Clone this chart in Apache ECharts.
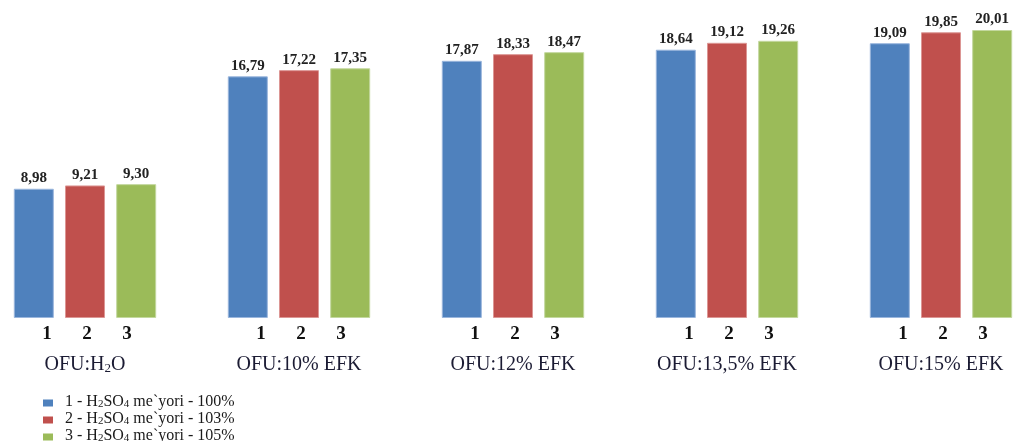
<!DOCTYPE html>
<html>
<head>
<meta charset="utf-8">
<script src="https://cdn.jsdelivr.net/npm/echarts@6/dist/echarts.min.js"></script>
<style>html,body{margin:0;padding:0;background:#fff}#c{width:1014px;height:441px}</style>
</head>
<body>
<div id="c"></div>
<script>
// Data
const categories = ['OFU:H2O', 'OFU:10% EFK', 'OFU:12% EFK', 'OFU:13,5% EFK', 'OFU:15% EFK'];
const seriesNames = ['1 - H2SO4 me`yori - 100%', '2 - H2SO4 me`yori - 103%', '3 - H2SO4 me`yori - 105%'];
const barNumbers = ['1', '2', '3'];
const s1 = [8.98, 16.79, 17.87, 18.64, 19.09];
const s2 = [9.21, 17.22, 18.33, 19.12, 19.85];
const s3 = [9.30, 17.35, 18.47, 19.26, 20.01];

const colors = ['#4F81BD', '#C0504D', '#9BBB59'];
const borders = ['#9ab6dd', '#dc9694', '#c3d89e'];
const serif = "'Liberation Serif', 'Times New Roman', serif";

function subRich(str, main, sub) {
  return str.replace(/([A-Z])(\d)/g, (m, a, d) => a + '\u0001' + d + '\u0002')
    .split(/(\u0001\d\u0002)/).filter(x => x.length)
    .map(p => p[0] === '\u0001' ? '{' + sub + '|' + p[1] + '}' : '{' + main + '|' + p + '}').join('');
}

const chart = echarts.init(document.getElementById('c'));
const values = [s1, s2, s3];
chart.setOption({
  animation: false,
  color: colors,
  grid: { left: -22, width: 1070, top: 30, bottom: 123, containLabel: false, outerBoundsMode: 'none' },
  legend: {
    orient: 'vertical', left: 43, top: 394, height: 80, padding: 0,
    itemWidth: 10, itemHeight: 7, itemGap: 1,
    icon: 'rect',
    itemStyle: { borderWidth: 0 },
    formatter: n => '{p|}' + subRich(n, 't', 's'),
    textStyle: {
      rich: {
        p: { width: 7, lineHeight: 14 },
        t: { fontFamily: serif, fontSize: 16, color: '#1a1a1a', lineHeight: 14, verticalAlign: 'bottom' },
        s: { fontFamily: serif, fontSize: 11, color: '#1a1a1a', lineHeight: 10, verticalAlign: 'bottom' }
      }
    }
  },
  xAxis: {
    type: 'category', data: categories,
    axisLine: { show: false }, axisTick: { show: false },
    axisLabel: {
      margin: 6, interval: 0,
      formatter: v => '{e|}' + barNumbers.map(b => '{d|' + b + '}').join('') + '\n' + subRich(v, 'g', 's'),
      rich: {
        e: { width: 4, lineHeight: 20 },
        d: { fontFamily: serif, fontWeight: 'bold', fontSize: 19, color: '#111', width: 40, align: 'center', lineHeight: 20 },
        g: { fontFamily: serif, fontSize: 20, color: '#1b1b33', lineHeight: 31, verticalAlign: 'bottom' },
        s: { fontFamily: serif, fontSize: 13, color: '#1b1b33', lineHeight: 23, verticalAlign: 'bottom' }
      }
    }
  },
  yAxis: { type: 'value', min: 0, max: v => v.max, show: false, splitLine: { show: false } },
  series: seriesNames.map((n, i) => ({
    name: n, type: 'bar', data: values[i],
    barWidth: 40, barGap: '28%',
    itemStyle: { color: colors[i], borderColor: borders[i], borderWidth: 1 },
    label: {
      show: true, position: 'top', distance: 3,
      fontFamily: serif, fontWeight: 'bold', fontSize: 15, color: '#222',
      formatter: p => p.value.toFixed(2).replace('.', ',')
    }
  }))
});
</script>
</body>
</html>
